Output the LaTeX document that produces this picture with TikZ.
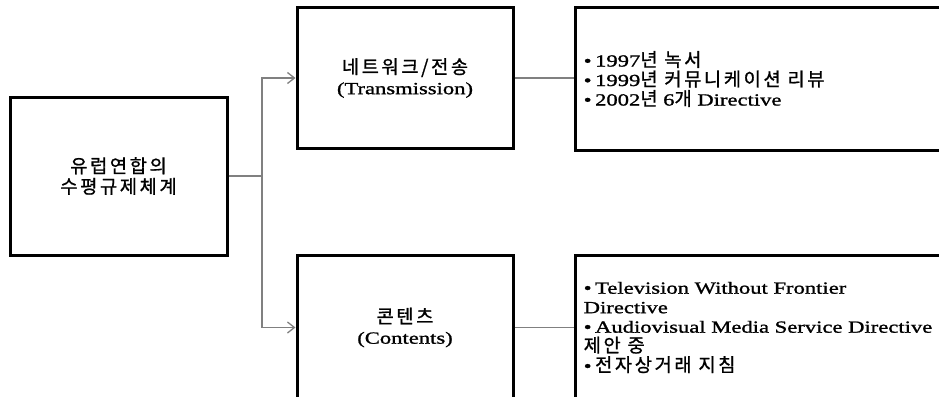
\documentclass[tikz,border=0pt]{standalone}
\usepackage{fontspec}
\setmainfont{Liberation Serif}[FakeStretch=1.33,FakeBold=1.2]
\newfontfamily\kr{Noto Sans CJK KR}[Scale=1.1,LetterSpace=14,FakeBold=1]
\newcommand{\K}[1]{{\kr #1}}
\newcommand{\bl}{•\hspace{3.5pt}}
\usetikzlibrary{arrows.meta}
\begin{document}
\begin{tikzpicture}[x=1pt,y=-1pt,
  box/.style={draw=black,line width=3pt,fill=white,inner sep=0pt,align=center,
    font=\fontsize{17}{20.5}\selectfont},
  txt/.style={anchor=west,align=left,inner sep=0pt,font=\fontsize{17}{19.5}\selectfont},
  conn/.style={draw=gray,line width=1.3pt},
  arr/.style={conn,-{Straight Barb[length=7pt,width=11pt,line width=1.3pt]}}]
\useasboundingbox (0,0) rectangle (939,396);
\clip (0,0) rectangle (939,396);
\node[box,minimum width=217pt,minimum height=158pt] (L) at (118.5,176)
  {\K{유럽연합의}\\\K{수평규제체계}};
\node[box,minimum width=216pt,minimum height=140pt] (T) at (405,78)
  {\K{네트워크/전송}\\(Transmission)};
\node[box,minimum width=216pt,minimum height=145pt] (C) at (405,327.5)
  {\K{콘텐츠}\\(Contents)};
\node[box,minimum width=370pt,minimum height=142pt] (R1) at (760,79) {};
\node[box,minimum width=370pt,minimum height=145pt] (R2) at (760,327.5) {};
\node[txt] (R1t) at ([xshift=10pt]R1.west)
  {\bl 1997\K{년 녹서}\\\bl 1999\K{년 커뮤니케이션 리뷰}\\\bl 2002\K{년} 6\K{개} Directive};
\node[txt] (R2t) at ([xshift=10pt]R2.west)
  {\bl Television Without Frontier\\Directive\\\bl Audiovisual Media Service Directive\\\K{제안 중}\\\bl \K{전자상거래 지침}};
\coordinate (J) at (262,176);
\draw[conn] (L.east) -- (J);
\draw[arr] (J) |- (T.west);
\draw[arr] (J) |- (C.west);
\draw[conn] (T.east) -- (T.east -| R1.west);
\draw[conn] (C.east) -- (C.east -| R2.west);
\end{tikzpicture}
\end{document}
